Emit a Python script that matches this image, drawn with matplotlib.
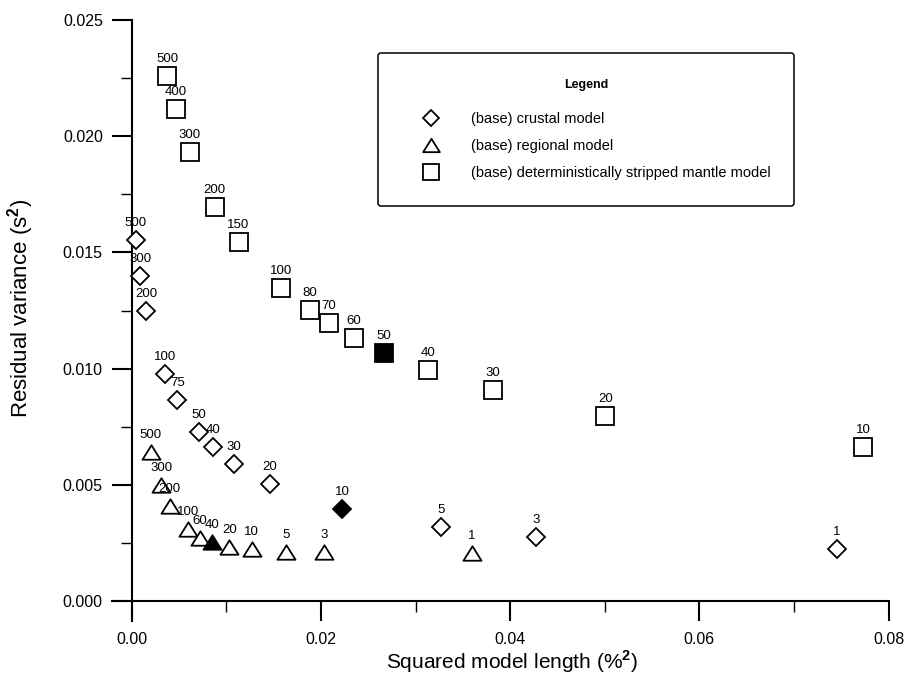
import matplotlib
matplotlib.use("Agg")
import matplotlib.pyplot as plt
from matplotlib.ticker import MultipleLocator, FormatStrFormatter
from matplotlib.lines import Line2D
from matplotlib.path import Path

plt.rcParams['font.family'] = ['Liberation Sans', 'DejaVu Sans']
plt.rcParams['mathtext.fontset'] = 'custom'
plt.rcParams['mathtext.rm'] = 'Liberation Sans'
plt.rcParams['mathtext.bf'] = 'Liberation Sans:bold'

# ---- data ----
crustal_labels = ['500', '300', '200', '100', '75', '50', '40', '30', '20', '10', '5', '3', '1']
crustal_x = [0.00042, 0.00089, 0.00150, 0.00350, 0.00480, 0.00705, 0.00862, 0.01083, 0.01458,
             0.02226, 0.03273, 0.04277, 0.07452]
crustal_y = [0.01554, 0.01397, 0.01248, 0.00976, 0.00867, 0.00728, 0.00662, 0.00589, 0.00502,
             0.00395, 0.00317, 0.00276, 0.00223]
crustal_sel = '10'

regional_labels = ['500', '300', '200', '100', '60', '40', '20', '10', '5', '3', '1']
regional_x = [0.00200, 0.00312, 0.00400, 0.00592, 0.00722, 0.00849, 0.01030, 0.01269, 0.01633,
              0.02033, 0.03596]
regional_y = [0.00642, 0.00498, 0.00410, 0.00308, 0.00272, 0.00254, 0.00233, 0.00223, 0.00212,
              0.00212, 0.00205]
regional_sel = '40'

mantle_labels = ['500', '400', '300', '200', '150', '100', '80', '70', '60', '50', '40', '30', '20', '10']
mantle_x = [0.00375, 0.00463, 0.00610, 0.00876, 0.01128, 0.01577, 0.01879, 0.02080, 0.02345,
            0.02668, 0.03134, 0.03814, 0.05005, 0.07732]
mantle_y = [0.02260, 0.02117, 0.01931, 0.01694, 0.01544, 0.01346, 0.01251, 0.01198, 0.01133,
            0.01067, 0.00993, 0.00907, 0.00795, 0.00663]
mantle_sel = '50'

legend_labels = ['(base) crustal model', '(base) regional model',
                 '(base) deterministically stripped mantle model']

# ---- figure ----
W, H = 905, 675
fig = plt.figure(figsize=(W / 100, H / 100), dpi=100)
ax_l, ax_r, ax_t, ax_b = 112, 888.5, 20, 621
ax = fig.add_axes([ax_l / W, (H - ax_b) / H, (ax_r - ax_l) / W, (ax_b - ax_t) / H])
ax.set_xlim(-0.0021, 0.08)
ax.set_ylim(-0.00086, 0.025)

tri = Path([(-1, -0.8), (1, -0.8), (0, 0.8), (-1, -0.8)], closed=True)
series = [
    (crustal_x, crustal_y, crustal_labels, crustal_sel, 'D', 9.3),
    (regional_x, regional_y, regional_labels, regional_sel, tri, 13),
    (mantle_x, mantle_y, mantle_labels, mantle_sel, 's', 13),
]
for xs, ys, labs, sel, mk, ms in series:
    for x, y, lab in zip(xs, ys, labs):
        fc = 'black' if lab == sel else 'white'
        ax.plot([x], [y], linestyle='none', marker=mk, markersize=ms,
                markerfacecolor=fc, markeredgecolor='black', markeredgewidth=1.3, zorder=3)
        ax.annotate(lab, (x, y), xytext=(0, 12.2), textcoords='offset points',
                    ha='center', va='center', fontsize=9.5, zorder=4)

# axes styling
for s in ['top', 'right']:
    ax.spines[s].set_visible(False)
ax.spines['left'].set_position(('data', 0))
ax.spines['bottom'].set_position(('data', 0))
for s in ['left', 'bottom']:
    ax.spines[s].set_linewidth(1.5)

ax.xaxis.set_major_locator(MultipleLocator(0.02))
ax.xaxis.set_minor_locator(MultipleLocator(0.01))
ax.yaxis.set_major_locator(MultipleLocator(0.005))
ax.yaxis.set_minor_locator(MultipleLocator(0.0025))
ax.xaxis.set_major_formatter(FormatStrFormatter('%.2f'))
ax.yaxis.set_major_formatter(FormatStrFormatter('%.3f'))
ax.tick_params(which='major', direction='out', length=14.4, width=1.5, labelsize=11.5)
ax.tick_params(which='minor', direction='out', length=7.9, width=1.0)
ax.tick_params(axis='y', which='major', pad=6.5)
ax.tick_params(axis='x', which='major', pad=8)

ax.set_xlabel(r'Squared model length (%$^{\mathbf{2}}$)', fontsize=15)
ax.set_ylabel(r'Residual variance (s$^{\mathbf{2}}$)', fontsize=16)
ax.xaxis.label.set_va('bottom')
ax.xaxis.set_label_coords((512 - ax_l) / (ax_r - ax_l), (ax_b - 675) / (ax_b - ax_t))
ax.yaxis.set_label_coords((36 - ax_l) / (ax_r - ax_l), 0.52)

# legend
handles = [
    Line2D([], [], linestyle='none', marker='D', markersize=8.5, markerfacecolor='white',
           markeredgecolor='black', markeredgewidth=1.3),
    Line2D([], [], linestyle='none', marker=tri, markersize=12, markerfacecolor='white',
           markeredgecolor='black', markeredgewidth=1.3),
    Line2D([], [], linestyle='none', marker='s', markersize=12, markerfacecolor='white',
           markeredgecolor='black', markeredgewidth=1.3),
]
leg = ax.legend(handles, legend_labels, loc='upper left',
                bbox_to_anchor=(378 / W, (H - 205) / H, 416 / W, 152 / H),
                bbox_transform=fig.transFigure, mode='expand',
                fontsize=10.5, title='Legend\n', title_fontsize=9,
                borderpad=1.8, labelspacing=0.88, handlelength=3.7, handletextpad=0.9,
                borderaxespad=0, frameon=True, fancybox=True, framealpha=1,
                edgecolor='black')
leg.get_title().set_fontweight('bold')
leg.get_title().set_linespacing(0.56)
leg.get_frame().set_linewidth(1.1)

fig.savefig('out.png', dpi=100)
